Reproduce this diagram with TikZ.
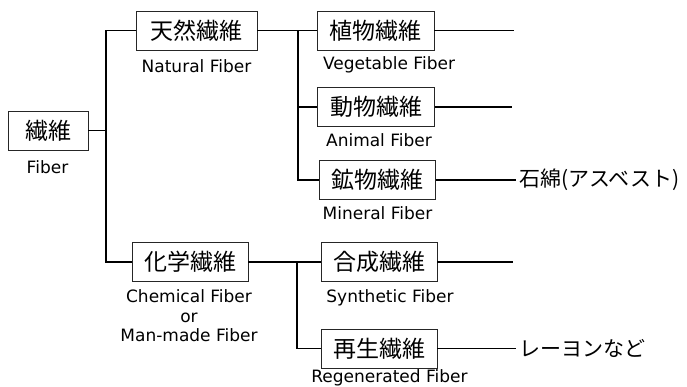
\documentclass[tikz,border=0pt]{standalone}
\usepackage{fontspec}
\setmainfont{Noto Sans CJK JP}
\newfontfamily\latinfont{DejaVu Sans}
\begin{document}
\begin{tikzpicture}[x=1pt,y=-1pt,
  box/.style={draw=black!85, line width=0.8pt, minimum height=39pt, inner sep=0pt, font=\fontsize{23}{23}\selectfont},
  lab/.style={font=\latinfont\fontsize{17}{19.5}\selectfont, inner sep=0pt, align=center},
  side/.style={font=\fontsize{21}{21}\selectfont, inner sep=0pt, anchor=west},
  conn/.style={line width=1.5pt}]
\useasboundingbox (0,0) rectangle (687,387);
% boxes
\node[box, minimum width=80pt] (fib) at (48,130.5) {繊維};
\node[box, minimum width=121pt] (nat) at (196.5,30.5) {天然繊維};
\node[box, minimum width=116pt] (chem) at (190,262) {化学繊維};
\node[box, minimum width=117pt] (veg) at (375.5,30.5) {植物繊維};
\node[box, minimum width=117pt] (ani) at (376,107) {動物繊維};
\node[box, minimum width=116pt] (min) at (377.5,180) {鉱物繊維};
\node[box, minimum width=116pt] (syn) at (379,262) {合成繊維};
\node[box, minimum width=116pt] (reg) at (379,348.5) {再生繊維};
% labels
\node[lab] (lfib) at (47.5,167) {Fiber};
\node[lab] (lnat) at (196.5,66) {Natural Fiber};
\node[lab] (lchem) at (189,316) {Chemical Fiber\\or\\Man-made Fiber};
\node[lab] (lveg) at (389,65) {Vegetable Fiber};
\node[lab] (lani) at (379,140) {Animal Fiber};
\node[lab] (lmin) at (377.5,213) {Mineral Fiber};
\node[lab] (lsyn) at (390,298) {Synthetic Fiber};
\node[lab] (lreg) at (389.5,378) {Regenerated Fiber};
% side texts
\node[side] (asb) at (519,180) {石綿(アスベスト)};
\node[side] (ray) at (519,348.5) {レーヨンなど};
% connector coordinates
\coordinate (t) at (106,130.5);
\coordinate (b1) at (298,30.5);
\coordinate (b2) at (297,262);
\coordinate (e1) at (514,30.5);
\coordinate (e2) at (512,107);
\coordinate (e3) at (513,262);
% connectors
\draw[conn] (fib.east) -- (t);
\draw[conn] (t) |- (nat.west);
\draw[conn] (t) |- (chem.west);
\draw[conn] (nat.east) -- (veg.west);
\draw[conn] (b1) |- (ani.west);
\draw[conn] (b1) |- (min.west);
\draw[conn] (chem.east) -- (syn.west);
\draw[conn] (b2) |- (reg.west);
\draw[conn] (veg.east) -- (e1);
\draw[conn] (ani.east) -- (e2);
\draw[conn] (syn.east) -- (e3);
\draw[conn] (min.east) -- ([xshift=-3pt]asb.west);
\draw[conn] (reg.east) -- ([xshift=-3pt]ray.west);
\end{tikzpicture}
\end{document}
